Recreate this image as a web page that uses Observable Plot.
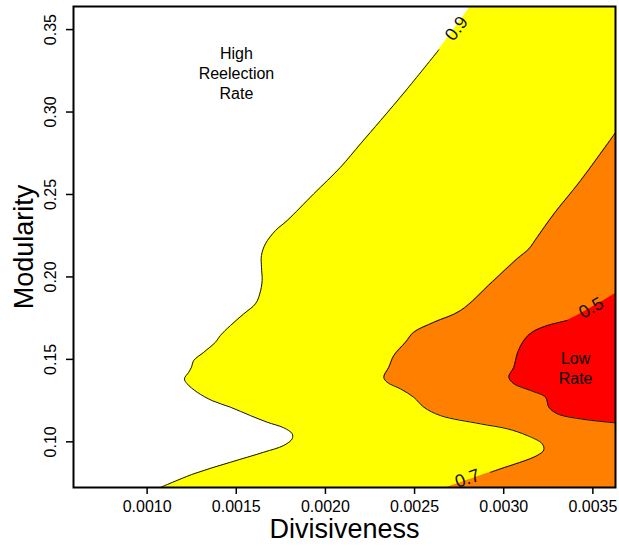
<!DOCTYPE html>
<html>
<head>
<meta charset="utf-8">
<script src="https://cdn.jsdelivr.net/npm/d3@7"></script>
<script src="https://cdn.jsdelivr.net/npm/@observablehq/plot@0.6"></script>
<style>
  html, body { margin: 0; padding: 0; background: #fff; }
</style>
</head>
<body>
<div id="chart"></div>
<script>
// Axis domains and ticks
const xDomain = [0.000587, 0.003627];
const yDomain = [0.0723, 0.364];
const xTicks = [0.0010, 0.0015, 0.0020, 0.0025, 0.0030, 0.0035];
const yTicks = [0.10, 0.15, 0.20, 0.25, 0.30, 0.35];

// Contour level 0.9 (boundary between white and yellow), [divisiveness, modularity]
const contour09 = [
  [0.0010746, 0.0723], [0.0012614, 0.0806], [0.0014673, 0.0876], [0.0016542, 0.0937],
  [0.0017664, 0.0978], [0.0018135, 0.1018], [0.0018135, 0.1049], [0.0017664, 0.1085],
  [0.0016732, 0.1119], [0.0015796, 0.1159], [0.0014673, 0.1210], [0.0013647, 0.1250],
  [0.0012805, 0.1301], [0.0012244, 0.1352], [0.0012093, 0.1382], [0.0012334, 0.1422],
  [0.0012485, 0.1452], [0.0012614, 0.1493], [0.0013176, 0.1543], [0.0013832, 0.1604],
  [0.0014112, 0.1645], [0.0014673, 0.1705], [0.0015420, 0.1776], [0.0016076, 0.1837],
  [0.0016317, 0.1897], [0.0016452, 0.1978], [0.0016413, 0.2059], [0.0016413, 0.2130],
  [0.0016637, 0.2201], [0.0017198, 0.2281], [0.0017855, 0.2342], [0.0019347, 0.2504],
  [0.0020845, 0.2665], [0.0021967, 0.2807], [0.0023089, 0.2948], [0.0024587, 0.3140],
  [0.0026360, 0.3377], [0.0028138, 0.3640]
];
const gap09 = [37];

// Contour level 0.7 (boundary between yellow and orange)
const contour07 = [
  [0.0026831, 0.0723], [0.0029261, 0.0815], [0.0029822, 0.0836], [0.0031881, 0.0917],
  [0.0032251, 0.0951], [0.0032161, 0.0988], [0.0031320, 0.1038], [0.0030198, 0.1079],
  [0.0028700, 0.1109], [0.0026455, 0.1159], [0.0025519, 0.1210], [0.0024957, 0.1270],
  [0.0024211, 0.1321], [0.0023465, 0.1361], [0.0023274, 0.1392], [0.0023555, 0.1452],
  [0.0023835, 0.1523], [0.0024492, 0.1604], [0.0024957, 0.1665], [0.0026080, 0.1725],
  [0.0027578, 0.1796], [0.0029373, 0.1972], [0.0030759, 0.2111], [0.0031409, 0.2170],
  [0.0031881, 0.2241], [0.0032812, 0.2382], [0.0034310, 0.2584], [0.0036270, 0.2875]
];
const gap07 = [0];

// Contour level 0.5 (boundary between orange and red)
const contour05 = [
  [0.0036270, 0.1115], [0.0034310, 0.1139], [0.0033003, 0.1170], [0.0032531, 0.1210],
  [0.0032346, 0.1270], [0.0031505, 0.1311], [0.0030568, 0.1352], [0.0030287, 0.1392],
  [0.0030568, 0.1452], [0.0030759, 0.1534], [0.0031129, 0.1614], [0.0031600, 0.1665],
  [0.0032442, 0.1705], [0.0033564, 0.1736], [0.0036270, 0.1899]
];
const gap05 = [14];

// Contour labels: [text, x, y, angle]
const contourLabels = [
  ["0.9", 0.0027353, 0.3506, -53],
  ["0.7", 0.0027970, 0.0777, -19],
  ["0.5", 0.0034910, 0.18125, -29]
];

// Annotations
const notes = [
  ["High\nReelection\nRate", 0.001501, 0.3241],
  ["Low\nRate", 0.003403, 0.1451]
];

const levels = [
  {data: contour09, gap: gap09, fill: "#FFFF00"},
  {data: contour07, gap: gap07, fill: "#FF8000"},
  {data: contour05, gap: gap05, fill: "#FF0000"}
];

const xMax = xDomain[1];
const marks = [];
for (const lv of levels) {
  marks.push(Plot.areaX(lv.data, {
    y: d => d[1], x1: d => d[0], x2: () => xMax,
    fill: lv.fill, curve: "catmull-rom"
  }));
}
for (const lv of levels) {
  const lineData = lv.data.map((d, i) => lv.gap.includes(i) ? [NaN, NaN] : d);
  marks.push(Plot.line(lineData, {
    x: d => d[0], y: d => d[1], stroke: "#111", strokeWidth: 1, curve: "catmull-rom"
  }));
}
marks.push(Plot.text(contourLabels, {
  x: d => d[1], y: d => d[2], text: d => d[0], rotate: d => d[3],
  fontSize: 18, fill: "#111", textAnchor: "middle", lineAnchor: "middle"
}));
marks.push(Plot.text(notes, {
  x: d => d[1], y: d => d[2], text: d => d[0],
  fontSize: 16, fill: "#000", textAnchor: "middle", lineAnchor: "middle", lineHeight: 1.25
}));
marks.push(Plot.frame({stroke: "#000", strokeWidth: 2}));
marks.push(Plot.axisX({
  ticks: xTicks, tickFormat: d3.format(".4f"), tickSize: 7, tickPadding: 6,
  fontSize: 16, strokeWidth: 1.5, label: null
}));
marks.push(Plot.axisY({
  ticks: yTicks, tickFormat: () => "", tickSize: 7, strokeWidth: 1.5, label: null
}));
marks.push(Plot.text(yTicks, {
  y: d => d, text: d => d3.format(".2f")(d), frameAnchor: "left", dx: -18,
  rotate: -90, textAnchor: "middle", lineAnchor: "bottom", fontSize: 16, fill: "#000"
}));
marks.push(Plot.text(["Divisiveness"], {
  text: d => d, frameAnchor: "bottom", dy: 50, lineAnchor: "bottom",
  textAnchor: "middle", fontSize: 27, fill: "#000"
}));
marks.push(Plot.text(["Modularity"], {
  text: d => d, frameAnchor: "left", dx: -41, rotate: -90, lineAnchor: "bottom",
  textAnchor: "middle", fontSize: 27, fill: "#000"
}));

const chart = Plot.plot({
  width: 619,
  height: 546,
  marginLeft: 73,
  marginRight: 4,
  marginTop: 6,
  marginBottom: 59,
  style: {fontFamily: "Liberation Sans, Arial, sans-serif", fontSize: "16px", background: "#fff", color: "#000", overflow: "visible"},
  x: {domain: xDomain, axis: null},
  y: {domain: yDomain, axis: null},
  marks
});
document.getElementById("chart").appendChild(chart);
</script>
</body>
</html>
